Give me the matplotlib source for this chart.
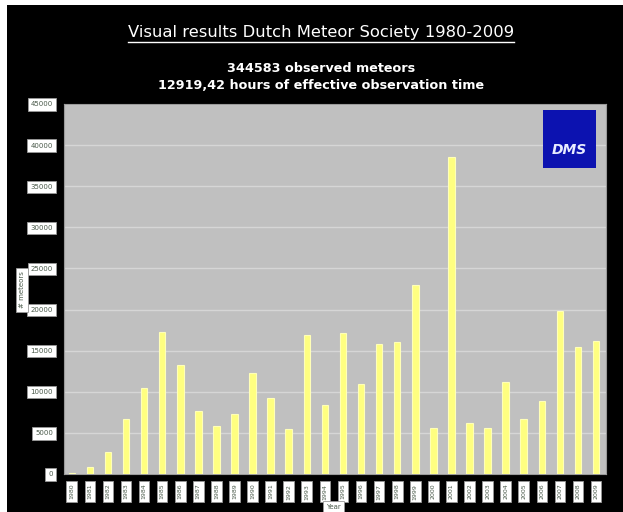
import matplotlib
matplotlib.use('Agg')
import matplotlib.pyplot as plt
from matplotlib.patches import Rectangle
from matplotlib.lines import Line2D

years = list(range(1980, 2010))
meteors = [150, 900, 2700, 6700, 10400, 17300, 13250, 7700, 5800, 7300,
           12300, 9300, 5450, 16900, 8400, 17100, 10950, 15800, 16000, 22950,
           5550, 38600, 6150, 5550, 11200, 6650, 8900, 19850, 15400, 16200]
yticks = list(range(0, 45001, 5000))

title = 'Visual results Dutch Meteor Society 1980-2009'
subtitle = '344583 observed meteors\n12919,42 hours of effective observation time'

fig = plt.figure(figsize=(6.23, 5.12), dpi=100, facecolor='white')
# black page background
fig.patches.append(Rectangle((7/623, 0), 1 - 7/623, 1 - 5/512, transform=fig.transFigure,
                             facecolor='black', edgecolor='none', zorder=-10))

ax = fig.add_axes([64/623, 38/512, 542/623, 370/512])
ax.set_facecolor('#c0c0c0')
x = list(range(len(years)))
ax.bar(x, meteors, width=0.36, color='#ffff80', edgecolor='#ffffb8', linewidth=0.8, zorder=3)
ax.set_xlim(-0.43, 29.55)
ax.set_ylim(0, 45000)
ax.set_yticks(yticks)
ax.set_yticklabels([str(v) for v in yticks])
ax.set_xticks(x)
ax.set_xticklabels([str(y) for y in years], rotation=90)
ax.grid(axis='y', color='#d6d6d6', linewidth=1.0, zorder=1)
ax.set_axisbelow(True)
for s in ax.spines.values():
    s.set_color('#9a9a9a')
ax.tick_params(length=0)
ax.tick_params(axis='y', pad=8, labelsize=5, labelcolor='#4a5a4a')
ax.tick_params(axis='x', pad=7, labelsize=4.5, labelcolor='#4a5a4a')
for lab in ax.get_yticklabels() + ax.get_xticklabels():
    lab.set_bbox(dict(facecolor='white', edgecolor='#999999', boxstyle='square,pad=0.45', linewidth=0.6))

# logo
ax.add_patch(Rectangle((0.884, 0.827), 0.0975, 0.157, transform=ax.transAxes,
                       facecolor='#0c12b0', edgecolor='none', zorder=5))
ax.text(0.9325, 0.875, 'DMS', transform=ax.transAxes, ha='center', va='center',
        color='#e8ecff', fontsize=10, fontweight='bold', style='italic', zorder=6)

fig.text(22/623, 1 - 290/512, '# meteors', rotation=90, ha='center', va='center',
         fontsize=5, color='#4a5a4a',
         bbox=dict(facecolor='white', edgecolor='#999999', boxstyle='square,pad=0.45', linewidth=0.6))
fig.text(333/623, 1 - 507/512, 'Year', ha='center', va='center', fontsize=5, color='#4a5a4a',
         bbox=dict(facecolor='white', edgecolor='#999999', boxstyle='square,pad=0.45', linewidth=0.6))

t = fig.text(0.515, 1 - 32/512, title, ha='center', va='center', color='white', fontsize=11.8)
fig.text(0.515, 1 - 77/512, subtitle, ha='center', va='center', color='white',
         fontsize=9.2, fontweight='bold', linespacing=1.4)

fig.canvas.draw()
bb = t.get_window_extent().transformed(fig.transFigure.inverted())
fig.lines.append(Line2D([bb.x0, bb.x1], [bb.y0 - 0.004, bb.y0 - 0.004], transform=fig.transFigure,
                        color='white', linewidth=1))

fig.savefig('out.png', dpi=100, facecolor='white')
